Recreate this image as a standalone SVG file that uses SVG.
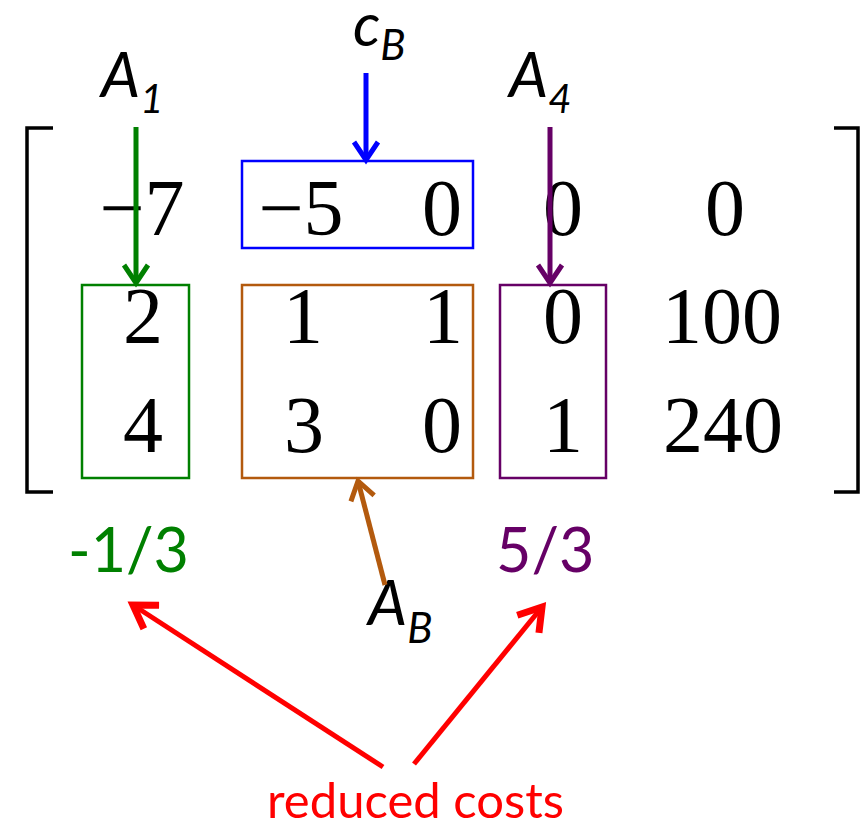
<svg xmlns="http://www.w3.org/2000/svg" width="863" height="827" viewBox="0 0 863 827">
<style>
.num{font-family:"Liberation Serif","Times New Roman",serif;font-size:80px;fill:#000;text-anchor:middle}
.lab{font-family:Lato,"Noto Sans",sans-serif;font-style:italic;fill:#000}
.rc{font-family:Lato,"Noto Sans",sans-serif}
.box{fill:none;stroke-width:2.5}
.br{fill:none;stroke:#000;stroke-width:3.5}
.arr{fill:none;stroke-width:5}
</style>
<defs>
<marker id="mg" markerUnits="userSpaceOnUse" markerWidth="40" markerHeight="40" viewBox="-20 -20 40 40" refX="0" refY="0" orient="auto"><path d="M-18,-12 L0,0 L-18,12" fill="none" stroke="#008000" stroke-width="5"/></marker>
<marker id="mb" markerUnits="userSpaceOnUse" markerWidth="40" markerHeight="40" viewBox="-20 -20 40 40" refX="0" refY="0" orient="auto"><path d="M-18,-12 L0,0 L-18,12" fill="none" stroke="#0000FF" stroke-width="5"/></marker>
<marker id="mp" markerUnits="userSpaceOnUse" markerWidth="40" markerHeight="40" viewBox="-20 -20 40 40" refX="0" refY="0" orient="auto"><path d="M-18,-12 L0,0 L-18,12" fill="none" stroke="#660066" stroke-width="5"/></marker>
<marker id="mo" markerUnits="userSpaceOnUse" markerWidth="40" markerHeight="40" viewBox="-20 -20 40 40" refX="0" refY="0" orient="auto"><path d="M-18,-12 L0,0 L-18,12" fill="none" stroke="#B35A0E" stroke-width="5"/></marker>
<marker id="mr" markerUnits="userSpaceOnUse" markerWidth="50" markerHeight="50" viewBox="-25 -25 50 50" refX="0" refY="0" orient="auto"><path d="M-22,-14 L0,0 L-22,14" fill="none" stroke="#FF0000" stroke-width="7"/></marker>
</defs>

<g id="matrix">
<path class="br" d="M53,128 H27 V492 H53"/>
<path class="br" d="M834,128 H858 V492 H834"/>
<text class="num" x="142" y="235">−7</text>
<text class="num" x="301" y="235">−5</text>
<text class="num" x="442" y="235">0</text>
<text class="num" x="563" y="235">0</text>
<text class="num" x="725" y="235">0</text>
<text class="num" x="143" y="343">2</text>
<text class="num" x="303" y="343">1</text>
<text class="num" x="443" y="343">1</text>
<text class="num" x="563" y="343">0</text>
<text class="num" x="722" y="343">100</text>
<text class="num" x="143" y="452">4</text>
<text class="num" x="304" y="452">3</text>
<text class="num" x="442" y="452">0</text>
<text class="num" x="563" y="452">1</text>
<text class="num" x="723" y="452">240</text>
</g>

<g id="cB-box"><rect class="box" x="242" y="161" width="231" height="87" stroke="#0000FF"/></g>
<g id="A1-box"><rect class="box" x="82" y="285" width="107" height="193" stroke="#008000"/></g>
<g id="AB-box"><rect class="box" x="242" y="285" width="231" height="193" stroke="#B35A0E"/></g>
<g id="A4-box"><rect class="box" x="500" y="285" width="106" height="193" stroke="#660066"/></g>

<g id="label-A1"><text class="lab" x="101" y="97" font-size="62">A<tspan font-size="40" dy="16">1</tspan></text></g>
<g id="label-cB"><text class="lab" x="353" y="46" font-size="60">c<tspan font-size="42" dy="14">B</tspan></text></g>
<g id="label-A4"><text class="lab" x="509" y="97" font-size="62">A<tspan font-size="40" dy="16">4</tspan></text></g>
<g id="label-AB"><text class="lab" x="368" y="625" font-size="62">A<tspan font-size="42" dy="18">B</tspan></text></g>
<g id="rc-A1"><text class="rc" x="68" y="572" font-size="61" fill="#008000">-1/3</text></g>
<g id="rc-A4"><text class="rc" x="496" y="572" font-size="61" fill="#660066">5/3</text></g>
<g id="label-rc"><text class="rc" x="267" y="818" font-size="48" fill="#FF0000" textLength="297" lengthAdjust="spacingAndGlyphs">reduced costs</text></g>

<g id="connectors">
<line class="arr" x1="136" y1="127" x2="136" y2="283" stroke="#008000" marker-end="url(#mg)"/>
<line class="arr" x1="366" y1="73" x2="366" y2="160" stroke="#0000FF" marker-end="url(#mb)"/>
<line class="arr" x1="550" y1="127" x2="550" y2="283" stroke="#660066" marker-end="url(#mp)"/>
<line class="arr" x1="385" y1="585" x2="358" y2="481" stroke="#B35A0E" marker-end="url(#mo)"/>
<line class="arr" x1="383" y1="767" x2="133" y2="605" stroke="#FF0000" stroke-width="8" marker-end="url(#mr)"/>
<line class="arr" x1="414" y1="764" x2="542" y2="607" stroke="#FF0000" stroke-width="8" marker-end="url(#mr)"/>
</g>
</svg>
